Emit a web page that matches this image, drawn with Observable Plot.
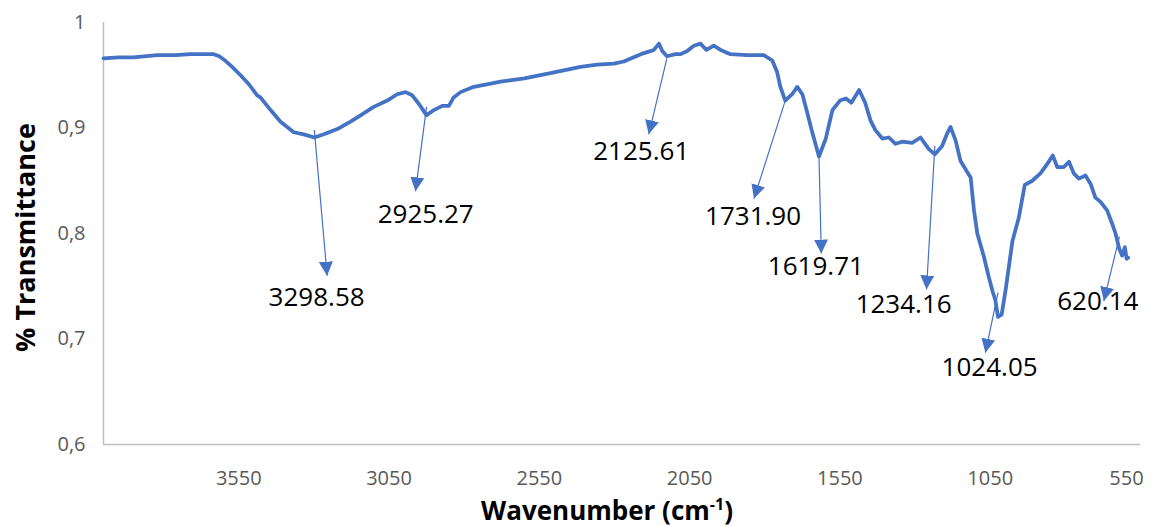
<!DOCTYPE html>
<html>
<head>
<meta charset="utf-8">
<script src="https://cdn.jsdelivr.net/npm/d3@7"></script>
<script src="https://cdn.jsdelivr.net/npm/@observablehq/plot@0.6"></script>
<style>
  html, body { margin: 0; padding: 0; background: #ffffff; }
  #chart { width: 1162px; height: 526px; }
</style>
</head>
<body>
<div id="chart"></div>
<script>
// FTIR spectrum: wavenumber (cm-1) and transmittance
const wavenumber = [
  4000, 3950, 3900, 3821, 3760, 3711, 3660, 3633, 3615, 3600, 3572, 3544, 3515, 3489,
  3478, 3444, 3411, 3367, 3334, 3298.58, 3267, 3222, 3178, 3145, 3101, 3056, 3023, 2995,
  2973, 2951, 2925.27, 2901, 2873, 2851, 2835, 2812, 2768, 2712, 2679, 2600, 2513, 2413,
  2357, 2302, 2269, 2236, 2202, 2169, 2152, 2141, 2125.61, 2097, 2080, 2058, 2036, 2014,
  1994, 1970, 1947, 1914, 1858, 1803, 1775, 1759, 1748, 1731.90, 1709, 1692, 1675, 1661,
  1645, 1619.71, 1597, 1575, 1550, 1530, 1512, 1486, 1466, 1448, 1432, 1409, 1387, 1365,
  1343, 1309, 1282, 1254, 1234.16, 1210, 1193, 1182, 1165, 1149, 1126, 1115, 1104, 1093,
  1071, 1055, 1042, 1033, 1024.05, 1012, 998, 976, 955, 935, 910, 883, 860, 842, 827, 805,
  788, 772, 755, 733, 716, 700, 683, 661, 644, 633, 620.14, 611, 602, 596, 591
];
const transmittance = [
  0.966, 0.967, 0.967, 0.969, 0.969, 0.970, 0.970, 0.970, 0.968, 0.965, 0.958, 0.950, 0.941, 0.931,
  0.929, 0.917, 0.906, 0.896, 0.894, 0.891, 0.894, 0.899, 0.906, 0.912, 0.920, 0.926, 0.932, 0.934,
  0.931, 0.923, 0.912, 0.917, 0.921, 0.921, 0.929, 0.934, 0.939, 0.942, 0.944, 0.947, 0.952, 0.958,
  0.960, 0.961, 0.963, 0.967, 0.971, 0.974, 0.980, 0.973, 0.968, 0.970, 0.970, 0.973, 0.978, 0.980,
  0.974, 0.978, 0.974, 0.970, 0.969, 0.969, 0.964, 0.953, 0.939, 0.926, 0.932, 0.939, 0.932, 0.917,
  0.899, 0.873, 0.890, 0.917, 0.926, 0.928, 0.924, 0.936, 0.924, 0.907, 0.898, 0.890, 0.891, 0.885,
  0.887, 0.886, 0.891, 0.880, 0.875, 0.883, 0.895, 0.901, 0.888, 0.869, 0.858, 0.853, 0.822, 0.800,
  0.778, 0.759, 0.745, 0.737, 0.721, 0.723, 0.748, 0.793, 0.815, 0.846, 0.850, 0.857, 0.866, 0.874, 0.863, 0.863,
  0.868, 0.857, 0.852, 0.855, 0.847, 0.834, 0.830, 0.822, 0.809, 0.800, 0.785, 0.779, 0.787, 0.776, 0.777
];

// Annotated bands: arrow from the band (start) to its label (end)
const peakValues = [3298.58, 2925.27, 2125.61, 1731.90, 1619.71, 1234.16, 1024.05, 620.14];
const arrowStartT = [0.898, 0.920, 0.966, 0.926, 0.874, 0.883, 0.744, 0.797];
const arrowEndX   = [3256, 2962, 2186, 1836, 1612, 1262, 1066, 672];
const arrowEndT   = [0.760, 0.840, 0.894, 0.833, 0.781, 0.747, 0.687, 0.736];
const labelX      = [3291, 2928, 2211, 1839, 1630, 1338, 1052, 692];
const labelT      = [0.739, 0.818, 0.878, 0.816, 0.769, 0.733, 0.673, 0.735];

// Axis ticks
const xTicks = [3550, 3050, 2550, 2050, 1550, 1050, 550];
const yTicks = [0.6, 0.7, 0.8, 0.9, 1];
const yTickLabels = ["0,6", "0,7", "0,8", "0,9", "1"];

const xTitle = "Wavenumber (cm-1)";
const yTitle = "% Transmittance";

const spectrum = wavenumber.map((wn, i) => ({wn, t: transmittance[i]}));
const peaks = peakValues.map((p, i) => ({
  label: p.toFixed(2),
  x1: p, y1: arrowStartT[i],
  x2: arrowEndX[i], y2: arrowEndT[i],
  lx: labelX[i], ly: labelT[i]
}));

const blue = "#4472C4";
const axisGray = "#bfbfbf";

const chart = Plot.plot({
  width: 1162,
  height: 526,
  marginLeft: 103,
  marginRight: 22,
  marginTop: 22,
  marginBottom: 82,
  style: {fontFamily: "'Open Sans', sans-serif", color: "#595959", background: "#ffffff", overflow: "visible"},
  x: {domain: [4000, 550]},
  y: {domain: [0.6, 1]},
  marks: [
    Plot.axisY(yTicks, {
      tickSize: 0, tickPadding: 18, fontSize: 20, label: null,
      tickFormat: d => yTickLabels[yTicks.indexOf(d)]
    }),
    Plot.axisX(xTicks.slice(0, -1), {
      tickSize: 0, tickPadding: 26, fontSize: 20, label: null, tickFormat: d => String(d)
    }),
    // last tick label sits at the frame edge; nudged inward
    Plot.axisX(xTicks.slice(-1), {
      tickSize: 0, tickPadding: 26, fontSize: 20, label: null, dx: -14, tickFormat: d => String(d)
    }),
    Plot.ruleX([4000], {stroke: axisGray, strokeWidth: 1.5}),
    Plot.ruleY([0.6], {stroke: axisGray, strokeWidth: 1.5}),
    Plot.line(spectrum, {
      x: "wn", y: "t", stroke: blue, strokeWidth: 3.75,
      strokeLinejoin: "round", strokeLinecap: "round"
    }),
    Plot.link(peaks, {x1: "x1", y1: "y1", x2: "x2", y2: "y2", stroke: blue, strokeWidth: 1.2}),
    Plot.text(peaks, {
      x: "lx", y: "ly", text: "label", fontSize: 26, fill: "#000000", lineAnchor: "middle"
    }),
    Plot.text([yTitle], {
      frameAnchor: "left", dx: -77, dy: 4, rotate: -90, text: d => d,
      textAnchor: "middle", lineAnchor: "middle",
      fontSize: 27, fontWeight: "bold", fill: "#000000"
    }),
    Plot.text([xTitle], {
      frameAnchor: "bottom", dx: -15, dy: 67, text: d => d,
      textAnchor: "middle", lineAnchor: "middle",
      fontSize: 26, fontWeight: "bold", fill: "#000000"
    })
  ]
});

// Filled triangular arrowheads on the annotation links
const ns = "http://www.w3.org/2000/svg";
const defs = document.createElementNS(ns, "defs");
const marker = document.createElementNS(ns, "marker");
marker.setAttribute("id", "band-arrow");
marker.setAttribute("viewBox", "0 0 10 10");
marker.setAttribute("refX", "10");
marker.setAttribute("refY", "5");
marker.setAttribute("markerUnits", "userSpaceOnUse");
marker.setAttribute("markerWidth", "14");
marker.setAttribute("markerHeight", "14");
marker.setAttribute("orient", "auto");
const head = document.createElementNS(ns, "path");
head.setAttribute("d", "M0,0L10,5L0,10Z");
head.setAttribute("fill", blue);
marker.appendChild(head);
defs.appendChild(marker);
chart.insertBefore(defs, chart.firstChild);
chart.querySelectorAll('g[aria-label="link"] path').forEach(p => {
  p.setAttribute("marker-end", "url(#band-arrow)");
});

// Superscript exponent in the x-axis title
chart.querySelectorAll("text").forEach(t => {
  if (t.textContent === xTitle) {
    t.textContent = "";
    const a = document.createElementNS(ns, "tspan");
    a.textContent = "Wavenumber (cm";
    const sup = document.createElementNS(ns, "tspan");
    sup.textContent = "-1";
    sup.setAttribute("font-size", "16");
    sup.setAttribute("dy", "-10");
    const b = document.createElementNS(ns, "tspan");
    b.textContent = ")";
    b.setAttribute("dy", "10");
    t.append(a, sup, b);
  }
});

document.getElementById("chart").appendChild(chart);
</script>
</body>
</html>
